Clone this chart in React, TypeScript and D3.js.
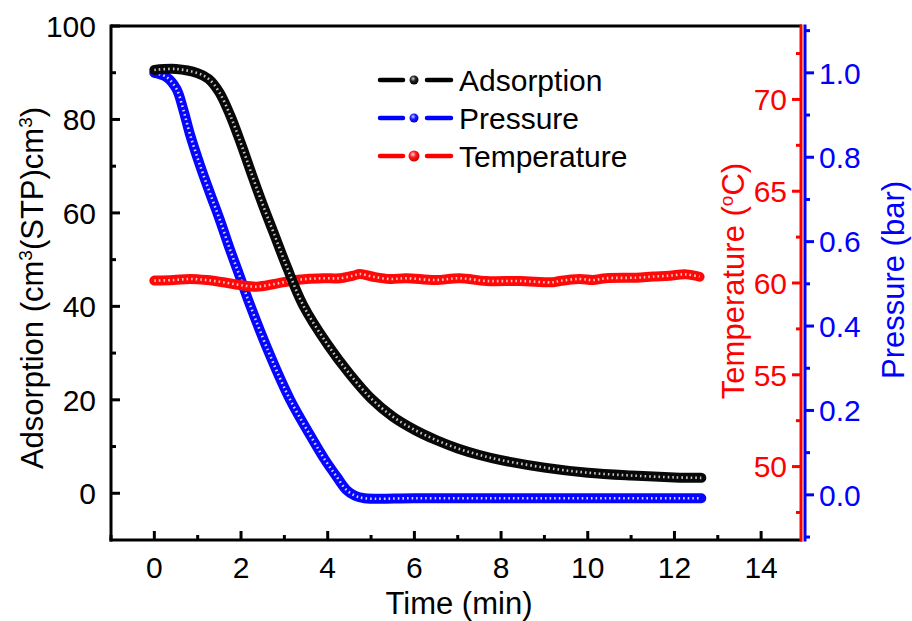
import React from "react";
import * as d3 from "d3";

// ---- Data ----
const adsTime = [0, 0.5, 1.0, 1.25, 1.5, 1.75, 2.0, 2.25, 2.5, 2.75, 3.05, 3.43, 4.0, 4.5, 5.0, 5.5, 6.0, 6.5, 7.0, 7.5, 8.0, 9.0, 10.0, 11.0, 12.0, 12.62];
const adsValue = [90.6, 90.8, 89.9, 88.7, 85.8, 80.9, 74.8, 68.2, 61.8, 55.8, 48.6, 40.3, 31.8, 25.6, 20.3, 16.4, 13.6, 11.4, 9.6, 8.2, 7.1, 5.5, 4.4, 3.8, 3.4, 3.3];

const presTime = [0, 0.28, 0.51, 0.67, 0.82, 1.05, 1.28, 1.51, 1.74, 1.97, 2.2, 2.66, 3.13, 3.66, 3.93, 4.2, 4.43, 4.63, 4.85, 6.0, 8.0, 10.0, 12.62];
const presValue = [1.0, 0.99, 0.962, 0.912, 0.855, 0.782, 0.716, 0.652, 0.583, 0.518, 0.452, 0.333, 0.226, 0.13, 0.084, 0.044, 0.012, -0.002, -0.008, -0.008, -0.008, -0.008, -0.008];

const tempTime = [0, 0.44, 0.82, 1.21, 1.59, 1.97, 2.36, 2.74, 3.13, 3.51, 3.9, 4.28, 4.59, 4.74, 5.05, 5.43, 5.82, 6.48, 7.04, 7.66, 8.43, 9.2, 9.35, 9.81, 10.12, 10.42, 11.12, 11.5, 11.89, 12.27, 12.58];
const tempValue = [60.13, 60.16, 60.22, 60.16, 60.04, 59.89, 59.8, 59.93, 60.11, 60.22, 60.26, 60.26, 60.4, 60.49, 60.34, 60.22, 60.26, 60.16, 60.26, 60.11, 60.11, 60.04, 60.11, 60.22, 60.16, 60.26, 60.29, 60.35, 60.4, 60.47, 60.34];

const xTicks = [0, 2, 4, 6, 8, 10, 12, 14];
const xMinor = [-1, 1, 3, 5, 7, 9, 11, 13];
const adsTicks = [0, 20, 40, 60, 80, 100];
const adsMinor = [10, 30, 50, 70, 90];
const tempTicks = [50, 55, 60, 65, 70];
const tempMinor = [47.5, 52.5, 57.5, 62.5, 67.5, 72.5];
const presTicks = [0, 0.2, 0.4, 0.6, 0.8, 1.0];
const presMinor = [-0.1, 0.1, 0.3, 0.5, 0.7, 0.9, 1.1];

const legendNames = ["Adsorption", "Pressure", "Temperature"];

const FONT = "'Liberation Sans', Arial, sans-serif";
const BLACK = "#000000";
const BLUE = "#0000ff";
const RED = "#ff0000";

const W = 912;
const H = 621;
const L = 111;
const R = 801;
const T = 26;
const B = 540;
const BLUE_X = 805;
const FS = 30;

export default function App() {
  const x = d3.scaleLinear().domain([-1, 14.92]).range([L, R]);
  const yA = d3.scaleLinear().domain([-10, 100]).range([B, T]);
  const yT = d3.scaleLinear().domain([46, 74]).range([B, T]);
  const yP = d3.scaleLinear().domain([-0.107, 1.111]).range([B, T]);

  const mk = (ts: number[], vs: number[], ys: d3.ScaleLinear<number, number>) =>
    d3
      .line<number>()
      .x((_, i) => x(ts[i]))
      .y((v) => ys(v))
      .curve(d3.curveCatmullRom.alpha(0.5))(vs) || "";

  const adsPath = mk(adsTime, adsValue, yA);
  const presPath = mk(presTime, presValue, yP);
  const tempPath = mk(tempTime, tempValue, yT);

  const series = [
    { d: presPath, c: "#0606ff", h: "#d0d4ff" },
    { d: tempPath, c: "#ff0808", h: "#ffc0c0" },
    { d: adsPath, c: "#080808", h: "#c4c4c4" },
  ];

  const fmt1 = d3.format(".1f");
  const legendColors = [BLACK, BLUE, RED];
  const gradIds = ["gK", "gB", "gR"];

  return (
    <svg
      width={W}
      height={H}
      style={{ position: "absolute", left: 0, top: 0, background: "#fff" }}
      fontFamily={FONT}
    >
      <defs>
        <radialGradient id="gK" cx="40%" cy="35%" r="65%">
          <stop offset="0%" stopColor="#d0d0d0" />
          <stop offset="45%" stopColor="#222" />
          <stop offset="100%" stopColor="#000" />
        </radialGradient>
        <radialGradient id="gB" cx="40%" cy="35%" r="65%">
          <stop offset="0%" stopColor="#c8ccff" />
          <stop offset="45%" stopColor="#1a1aff" />
          <stop offset="100%" stopColor="#0000d0" />
        </radialGradient>
        <radialGradient id="gR" cx="40%" cy="35%" r="65%">
          <stop offset="0%" stopColor="#ffd0d0" />
          <stop offset="45%" stopColor="#ff1a1a" />
          <stop offset="100%" stopColor="#d00000" />
        </radialGradient>
      </defs>

      {/* data series */}
      {series.map((s, i) => (
        <g key={i}>
          <path d={s.d} fill="none" stroke={s.c} strokeWidth={10} strokeLinecap="round" strokeLinejoin="round" />
          <path
            d={s.d}
            fill="none"
            stroke={s.h}
            strokeWidth={2.6}
            strokeDasharray="1.6 3"
            strokeLinecap="butt"
          />
        </g>
      ))}

      {/* frame: top, bottom, left */}
      <line x1={L} x2={R + 1} y1={T} y2={T} stroke={BLACK} strokeWidth={3} />
      <line x1={L - 1.5} x2={R + 1} y1={B} y2={B} stroke={BLACK} strokeWidth={3} />
      <line x1={L} x2={L} y1={T - 1.5} y2={B + 1.5} stroke={BLACK} strokeWidth={3} />

      {/* x ticks */}
      {xTicks.map((t) => (
        <g key={"xt" + t}>
          <line x1={x(t)} x2={x(t)} y1={B} y2={B - 9} stroke={BLACK} strokeWidth={3} />
          <text x={x(t)} y={578} fontSize={FS} textAnchor="middle" fill={BLACK}>
            {t}
          </text>
        </g>
      ))}
      {xMinor.map((t) => (
        <line key={"xm" + t} x1={x(t)} x2={x(t)} y1={B} y2={B - 5} stroke={BLACK} strokeWidth={3} />
      ))}
      <text x={459} y={614} fontSize={31} textAnchor="middle" fill={BLACK}>
        Time (min)
      </text>

      {/* left axis */}
      {adsTicks.map((t) => (
        <g key={"at" + t}>
          <line x1={L} x2={L + 9} y1={yA(t)} y2={yA(t)} stroke={BLACK} strokeWidth={3} />
          <text x={96} y={yA(t)} dy="0.36em" fontSize={FS} textAnchor="end" fill={BLACK}>
            {t}
          </text>
        </g>
      ))}
      {adsMinor.map((t) => (
        <line key={"am" + t} x1={L} x2={L + 5} y1={yA(t)} y2={yA(t)} stroke={BLACK} strokeWidth={3} />
      ))}
      <text
        transform={`translate(43, ${(T + B) / 2 + 5}) rotate(-90)`}
        fontSize={31}
        textAnchor="middle"
        fill={BLACK}
      >
        Adsorption (cm
        <tspan dy={-11} fontSize={19}>3</tspan>
        <tspan dy={11}>(STP)cm</tspan>
        <tspan dy={-11} fontSize={19}>3</tspan>
        <tspan dy={11}>)</tspan>
      </text>

      {/* temperature axis (red) */}
      <line x1={R} x2={R} y1={T - 1.5} y2={B + 1.5} stroke={RED} strokeWidth={3} />
      {tempTicks.map((t) => (
        <g key={"tt" + t}>
          <line x1={R} x2={R - 9} y1={yT(t)} y2={yT(t)} stroke={RED} strokeWidth={3} />
          <text x={787} y={yT(t)} dy="0.36em" fontSize={FS} textAnchor="end" fill={RED}>
            {t}
          </text>
        </g>
      ))}
      {tempMinor.map((t) => (
        <line key={"tm" + t} x1={R} x2={R - 5} y1={yT(t)} y2={yT(t)} stroke={RED} strokeWidth={3} />
      ))}
      <text
        transform={`translate(744, ${(T + B) / 2 - 2}) rotate(-90)`}
        fontSize={31}
        textAnchor="middle"
        fill={RED}
      >
        Temperature (
        <tspan dy={-11} fontSize={19}>o</tspan>
        <tspan dy={11}>C)</tspan>
      </text>

      {/* pressure axis (blue) */}
      <line x1={BLUE_X} x2={BLUE_X} y1={T - 1.5} y2={B + 1.5} stroke={BLUE} strokeWidth={3} />
      {presTicks.map((t) => (
        <g key={"pt" + t}>
          <line x1={BLUE_X} x2={BLUE_X + 9} y1={yP(t)} y2={yP(t)} stroke={BLUE} strokeWidth={3} />
          <text x={819} y={yP(t)} dy="0.36em" fontSize={FS} textAnchor="start" fill={BLUE}>
            {fmt1(t)}
          </text>
        </g>
      ))}
      {presMinor.map((t) => (
        <line key={"pm" + t} x1={BLUE_X} x2={BLUE_X + 5} y1={yP(t)} y2={yP(t)} stroke={BLUE} strokeWidth={3} />
      ))}
      <text
        transform={`translate(904, ${(T + B) / 2 - 3}) rotate(-90)`}
        fontSize={31}
        textAnchor="middle"
        fill={BLUE}
      >
        Pressure (bar)
      </text>

      {/* legend */}
      {legendNames.map((n, i) => {
        const ly = 80 + i * 38;
        return (
          <g key={n}>
            <line x1={380} x2={403} y1={ly} y2={ly} stroke={legendColors[i]} strokeWidth={4.5} strokeLinecap="round" />
            <line x1={427} x2={451} y1={ly} y2={ly} stroke={legendColors[i]} strokeWidth={4.5} strokeLinecap="round" />
            <circle cx={414} cy={ly} r={i === 2 ? 5.5 : 4.5} fill={`url(#${gradIds[i]})`} />
            <text x={459} y={ly} dy="0.36em" fontSize={FS} fill={BLACK}>
              {n}
            </text>
          </g>
        );
      })}
    </svg>
  );
}
